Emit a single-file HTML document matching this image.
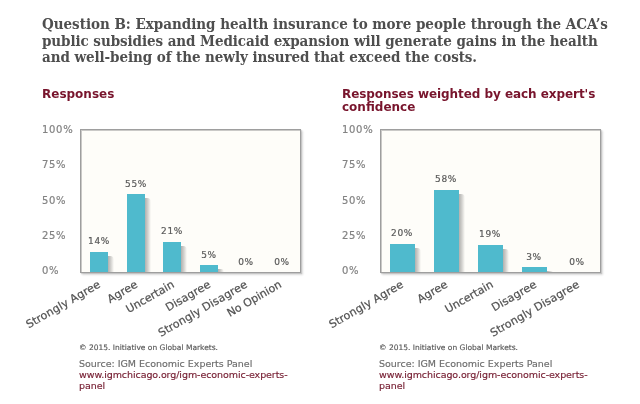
<!DOCTYPE html>
<html><head><meta charset="utf-8">
<style>
html,body{margin:0;padding:0;background:#fff;}
body{width:640px;height:404px;position:relative;overflow:hidden;font-family:"DejaVu Sans","Liberation Sans",sans-serif;}
.abs{position:absolute;white-space:nowrap;}
#title{position:absolute;left:42px;top:16.3px;width:590px;font-family:"DejaVu Serif Condensed","DejaVu Serif","Liberation Serif",serif;font-weight:bold;font-stretch:condensed;font-size:15px;line-height:16.5px;color:#4e4e4e;white-space:nowrap;}
.h{position:absolute;font-weight:bold;font-size:12px;line-height:13.6px;color:#78142c;white-space:nowrap;}
.ax{position:absolute;-webkit-text-stroke-width:0.2px;font-size:10px;letter-spacing:0.7px;color:#838383;white-space:nowrap;line-height:12px;}
.val{position:absolute;-webkit-text-stroke-width:0.2px;font-size:9px;letter-spacing:0.6px;color:#5a5a5a;white-space:nowrap;line-height:10px;text-align:center;width:40px;}
.plot{position:absolute;background:#fefdf9;border:1px solid #9e9e9e;box-sizing:border-box;box-shadow:inset 1px 1px 0 rgba(150,150,150,0.5),1px 1px 1px rgba(0,0,0,0.12),2px 2px 2px rgba(0,0,0,0.13);}
.bar{position:absolute;background:#4fbacd;}
.bar::after{content:"";position:absolute;left:100%;top:4px;bottom:0;width:6px;background:linear-gradient(to right,rgba(70,70,70,0.42),rgba(70,70,70,0.25) 45%,rgba(70,70,70,0));border-top-right-radius:4px;}
.cat{position:absolute;-webkit-text-stroke:0.22px #525252;font-size:11px;letter-spacing:0.15px;color:#525252;white-space:nowrap;line-height:12px;transform-origin:100% 50%;transform:rotate(-30deg);}
.cp{position:absolute;-webkit-text-stroke-width:0.15px;font-size:7.5px;color:#585858;white-space:nowrap;line-height:10px;}
.src{position:absolute;-webkit-text-stroke-width:0.15px;font-size:9.5px;color:#6c6c6c;white-space:nowrap;line-height:11px;}
.src .u{color:#772034;letter-spacing:-0.075px;}
</style></head><body>
<div id="title"><span style="letter-spacing:-0.015px">Question B: Expanding health insurance to more people through the ACA’s</span><br><span style="letter-spacing:-0.07px">public subsidies and Medicaid expansion will generate gains in the health</span><br><span style="letter-spacing:-0.07px">and well-being of the newly insured that exceed the costs.</span></div>

<div class="h" style="left:42px;top:87.6px;">Responses</div>
<div class="h" style="left:342px;top:87.6px;"><span style="letter-spacing:-0.06px">Responses weighted by each expert's</span><br>confidence</div>

<!-- left chart -->
<div class="ax" style="left:42px;top:123.8px;">100%</div>
<div class="ax" style="left:42px;top:158.8px;">75%</div>
<div class="ax" style="left:42px;top:194.8px;">50%</div>
<div class="ax" style="left:42px;top:229.8px;">25%</div>
<div class="ax" style="left:42px;top:264.8px;">0%</div>
<div class="plot" style="left:80px;top:129px;width:221px;height:143.5px;"></div>
<div class="bar" style="left:90px;top:252px;width:18px;height:20px;"></div>
<div class="bar" style="left:127px;top:194px;width:18px;height:78px;"></div>
<div class="bar" style="left:163px;top:241.5px;width:18px;height:30.5px;"></div>
<div class="bar" style="left:200px;top:265px;width:18px;height:7px;"></div>
<div class="val" style="left:79px;top:235.8px;">14%</div>
<div class="val" style="left:116px;top:178.5px;">55%</div>
<div class="val" style="left:152px;top:225.5px;">21%</div>
<div class="val" style="left:189px;top:249.5px;">5%</div>
<div class="val" style="left:226px;top:256.5px;">0%</div>
<div class="val" style="left:262px;top:256.5px;">0%</div>
<div class="cat" style="right:540px;top:278px;">Strongly Agree</div>
<div class="cat" style="right:503px;top:278px;">Agree</div>
<div class="cat" style="right:467px;top:278px;letter-spacing:0">Uncertain</div>
<div class="cat" style="right:430px;top:278px;">Disagree</div>
<div class="cat" style="right:393px;top:278px;">Strongly Disagree</div>
<div class="cat" style="right:359px;top:278px;letter-spacing:0">No Opinion</div>
<div class="cp" style="left:79px;top:343px;">© 2015. Initiative on Global Markets.</div>
<div class="src" style="left:79px;top:358.3px;"><span style="letter-spacing:-0.02px">Source: IGM Economic Experts Panel</span><br><span class="u">www.igmchicago.org/igm-economic-experts-<br>panel</span></div>

<!-- right chart -->
<div class="ax" style="left:342px;top:123.8px;">100%</div>
<div class="ax" style="left:342px;top:158.8px;">75%</div>
<div class="ax" style="left:342px;top:194.8px;">50%</div>
<div class="ax" style="left:342px;top:229.8px;">25%</div>
<div class="ax" style="left:342px;top:264.8px;">0%</div>
<div class="plot" style="left:380px;top:129px;width:221px;height:143.5px;"></div>
<div class="bar" style="left:390px;top:243.8px;width:25px;height:28.2px;"></div>
<div class="bar" style="left:434px;top:190px;width:25px;height:82px;"></div>
<div class="bar" style="left:478px;top:245px;width:25px;height:27px;"></div>
<div class="bar" style="left:522px;top:267px;width:25px;height:5px;"></div>
<div class="val" style="left:382px;top:228.2px;">20%</div>
<div class="val" style="left:426px;top:173.5px;">58%</div>
<div class="val" style="left:470px;top:228.8px;">19%</div>
<div class="val" style="left:514px;top:251.5px;">3%</div>
<div class="val" style="left:557px;top:256.5px;">0%</div>
<div class="cat" style="right:237px;top:278px;">Strongly Agree</div>
<div class="cat" style="right:193px;top:278px;">Agree</div>
<div class="cat" style="right:148px;top:278px;letter-spacing:0">Uncertain</div>
<div class="cat" style="right:104.5px;top:278px;">Disagree</div>
<div class="cat" style="right:61px;top:278px;">Strongly Disagree</div>
<div class="cp" style="left:379px;top:343px;">© 2015. Initiative on Global Markets.</div>
<div class="src" style="left:379px;top:358.3px;"><span style="letter-spacing:-0.02px">Source: IGM Economic Experts Panel</span><br><span class="u">www.igmchicago.org/igm-economic-experts-<br>panel</span></div>
</body></html>
